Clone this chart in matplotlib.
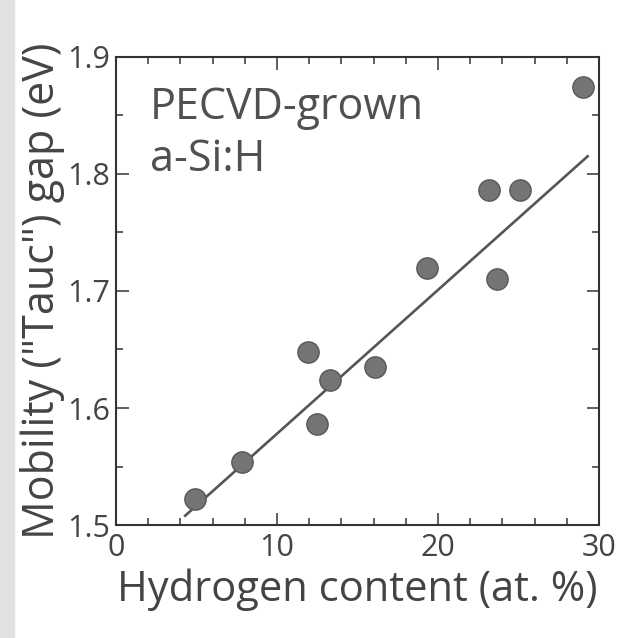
import numpy as np
import matplotlib.pyplot as plt
from matplotlib.ticker import MultipleLocator

plt.rcParams['font.family'] = ['Open Sans', 'DejaVu Sans']

# hydrogen content (at. %) and Tauc gap (eV) for PECVD a-Si:H films
h_content = [4.9, 7.8, 11.9, 12.5, 13.3, 16.1, 19.3, 23.2, 25.1, 23.7, 29.0]
tauc_gap = [1.522, 1.554, 1.648, 1.586, 1.624, 1.635, 1.720, 1.786, 1.786, 1.710, 1.874]

# ends of the straight-line trend
fit_x = [4.3, 29.3]
fit_y = [1.508, 1.815]

ink = '#444444'

fig = plt.figure(figsize=(6.2, 6.38), dpi=100)
fig.patches.append(plt.Rectangle((0, 0), 0.022, 1, transform=fig.transFigure,
                                 color='#e2e2e2', zorder=0))
ax = fig.add_axes([0.187, 0.177, 0.779, 0.734])

ax.plot(fit_x, fit_y, color='#555555', lw=1.9, zorder=2)
ax.scatter(h_content, tauc_gap, s=235, color='#747474', edgecolor='#585858',
           linewidth=1.0, zorder=3)

ax.set_xlim(0, 30)
ax.set_ylim(1.5, 1.9)
ax.xaxis.set_major_locator(MultipleLocator(10))
ax.xaxis.set_minor_locator(MultipleLocator(2))
ax.yaxis.set_major_locator(MultipleLocator(0.1))
ax.yaxis.set_minor_locator(MultipleLocator(0.05))
ax.tick_params(which='both', direction='in', top=True, right=True,
               colors=ink, labelsize=22, width=1.2)
ax.tick_params(which='major', length=9)
ax.tick_params(which='minor', length=5)
ax.tick_params(axis='x', pad=6)
ax.tick_params(axis='y', pad=4)
for s in ax.spines.values():
    s.set_color('#333333')
    s.set_linewidth(1.5)

ax.set_xlabel('Hydrogen content (at. %)', fontsize=30, color=ink, labelpad=4)
ax.set_ylabel('Mobility ("Tauc") gap (eV)', fontsize=31, color=ink, labelpad=2)

ax.text(0.07, 0.835, 'PECVD-grown\na-Si:H', transform=ax.transAxes,
        fontsize=31, color='#505050', va='center', linespacing=1.22)

fig.savefig('out.png', dpi=100, facecolor='white')
